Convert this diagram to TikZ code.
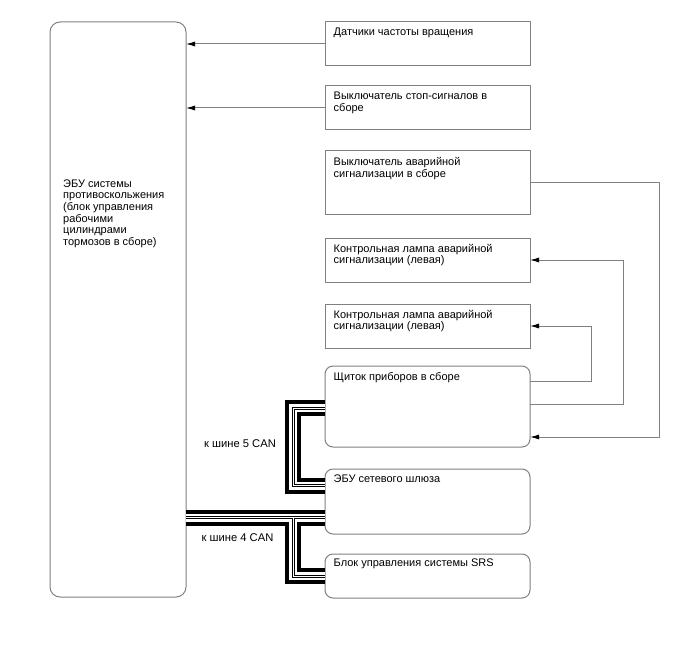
\documentclass[tikz,border=0pt]{standalone}
\usepackage{fontspec}
\setmainfont{Liberation Sans}
\usepackage{tikz}
\usetikzlibrary{arrows.meta, calc}
\definecolor{linegray}{RGB}{128,128,128}
\tikzset{
    unit/.style={draw=linegray, line width=1pt, outer sep=0pt, inner sep=0pt, anchor=north west, minimum width=205},
    runit/.style={unit, rounded corners=8pt},
    caption/.style={anchor=north west, inner sep=0pt, align=left, font=\fontsize{11}{11.6}\selectfont},
    link/.style={draw=linegray, line width=1pt, -{Latex[length=9pt,width=5pt,color=black]}},
    buslabel/.style={inner sep=0pt, font=\fontsize{11.2}{12}\selectfont}
}

\begin{document}
\begin{tikzpicture}[x=1pt, y=-1pt]
    \useasboundingbox (0,0) rectangle (688,658);
    \node[unit, rounded corners=10pt, minimum width=136, minimum height=575] (ecu) at (50,22) {};
    \node[caption] (ecutxt) at (63,179.5) {ЭБУ системы\\противоскольжения\\(блок управления\\рабочими\\цилиндрами\\тормозов в сборе)};

    \node[unit, minimum height=44] (dat) at (325,22) {};
    \node[unit, minimum height=44] (stop) at (325,86) {};
    \node[unit, minimum height=63] (avsw) at (325,151) {};
    \node[unit, minimum height=44] (lampa) at (325,238) {};
    \node[unit, minimum height=44] (lampb) at (325,304) {};
    \node[runit, minimum height=81] (comb) at (325,366) {};
    \node[runit, minimum height=65] (gw) at (325,469) {};
    \node[runit, minimum height=44] (srs) at (325,554) {};

    \node[caption] (dattxt) at ($(dat.north west)+(8.5,6)$) {Датчики частоты вращения};
    \node[caption] (stoptxt) at ($(stop.north west)+(8.5,6)$) {Выключатель стоп-сигналов в\\сборе};
    \node[caption] (avswtxt) at ($(avsw.north west)+(8.5,6.5)$) {Выключатель аварийной\\сигнализации в сборе};
    \node[caption] (lampatxt) at ($(lampa.north west)+(8.5,6)$) {Контрольная лампа аварийной\\сигнализации (левая)};
    \node[caption] (lampbtxt) at ($(lampb.north west)+(8.5,6)$) {Контрольная лампа аварийной\\сигнализации (левая)};
    \node[caption] (combtxt) at ($(comb.north west)+(8.5,6.5)$) {Щиток приборов в сборе};
    \node[caption] (gwtxt) at ($(gw.north west)+(8.5,6)$) {ЭБУ сетевого шлюза};
    \node[caption] (srstxt) at ($(srs.north west)+(8.5,5)$) {Блок управления системы SRS};

    \draw[link] (dat.west) -- (dat.west -| ecu.east);
    \draw[link] (stop.west) -- (stop.west -| ecu.east);
    \draw[link] (avsw.east) -- ++(129,0) |- ($(comb.south east)+(0,-10)$);
    \draw[link] ($(comb.north east)+(0,38)$) -- ++(93,0) |- (lampa.east);
    \draw[link] ($(comb.north east)+(0,15)$) -- ++(61,0) |- (lampb.east);

    \coordinate (cm5) at ($(comb.north west)+(0,42)$);
    \coordinate (gw5) at ($(gw.north west)+(0,16.5)$);
    \coordinate (gw4) at ($(gw.north west)+(0,48.5)$);
    \foreach \w/\c in {16/black, 8/white, 3/black, 1/white} {
        \draw[line width=\w pt, \c] (cm5) -- ++(-32,0) |- (gw5);
        \draw[line width=\w pt, \c] (gw4 -| ecu.east) -- (gw4);
        \draw[line width=\w pt, \c] ($(gw4)+(-32,0)$) |- (srs.west);
    }

    \node[buslabel] (can5) at (240,444) {к шине 5 CAN};
    \node[buslabel] (can4) at (237.5,538) {к шине 4 CAN};
\end{tikzpicture}
\end{document}
